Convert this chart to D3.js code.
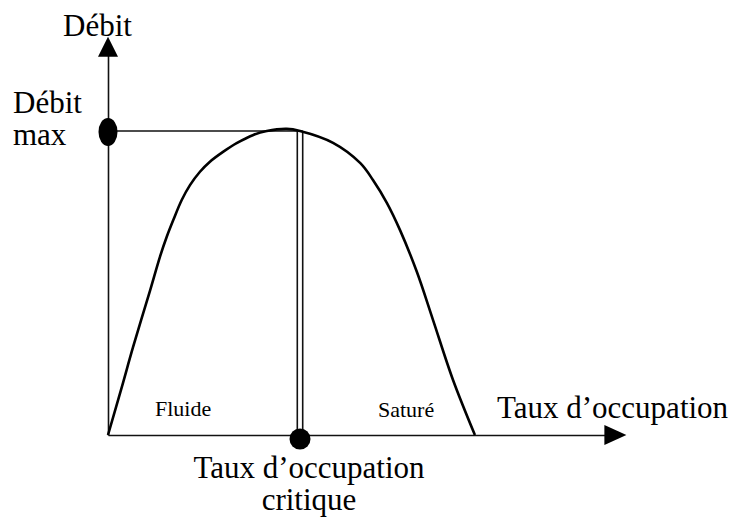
<!DOCTYPE html>
<html>
<head>
<meta charset="utf-8">
<script src="https://cdn.jsdelivr.net/npm/d3@7"></script>
<style>
  html, body { margin: 0; padding: 0; background: #fff; }
  svg { display: block; }
  text { font-family: "Liberation Serif", "Times New Roman", serif; fill: #000; }
</style>
</head>
<body>
<svg id="chart" width="743" height="520"></svg>
<script>
// ---- data (arbitrary units: occupation, débit; critical occupation = 100, débit max = 100)
const occupation = [0, 7.3, 13, 21.9, 27.1, 30.6, 34.0, 38.4, 42.7, 47.9, 53.1, 60.1, 67.0, 75.7, 82.7, 93.1, 100,
                    117.2, 131.3, 138, 145.3, 152.1, 160.9, 169.3, 179.7, 191.1];
const debit      = [0, 16, 28.8, 47.5, 58.7, 65.2, 70.7, 77.3, 82.2, 86.6, 89.9, 93.2, 96.0, 98.7, 100, 100.7, 100,
                    96.1, 89.5, 83.9, 76.3, 67.4, 53.6, 37.8, 18.1, 0];
const criticalOccupation = [100];
const debitMax = [100];
const axisMax = { x: [270], y: [131] };
const labels = {
  yTitle: ["Débit"],
  yMark: ["Débit", "max"],
  xTitle: ["Taux d\u2019occupation"],
  xMark: ["Taux d\u2019occupation", "critique"],
  zones: ["Fluide", "Saturé"]
};

const svg = d3.select("#chart");
const x = d3.scaleLinear().domain([0, 100]).range([108, 300]);
const y = d3.scaleLinear().domain([0, 100]).range([435, 131]);
const xEnd = x(axisMax.x[0]);
const yEnd = y(axisMax.y[0]);

// axes (no ticks)
const xAxisScale = d3.scaleLinear().domain([0, axisMax.x[0]]).range([x(0), xEnd - 14]);
const yAxisScale = d3.scaleLinear().domain([0, axisMax.y[0]]).range([y(0), yEnd + 14]);
svg.append("g").attr("transform", `translate(0,${y(0)})`)
  .call(d3.axisBottom(xAxisScale).tickValues([]).tickSizeOuter(0))
  .call(g => g.select(".domain").attr("stroke", "#111").attr("stroke-width", 1.6));
svg.append("g").attr("transform", `translate(${x(0)},0)`)
  .call(d3.axisLeft(yAxisScale).tickValues([]).tickSizeOuter(0))
  .call(g => g.select(".domain").attr("stroke", "#111").attr("stroke-width", 1.6));

// arrow heads
svg.append("path")
  .attr("d", `M${xEnd},${y(0)} L${xEnd - 22},${y(0) - 10} L${xEnd - 22},${y(0) + 10} Z`)
  .attr("fill", "#000");
svg.append("path")
  .attr("d", `M${x(0)},${yEnd} L${x(0) - 10},${yEnd + 20} L${x(0) + 10},${yEnd + 20} Z`)
  .attr("fill", "#000");

// horizontal line at débit max
svg.append("line")
  .attr("x1", x(0)).attr("x2", x(criticalOccupation[0]) + 2.7)
  .attr("y1", y(debitMax[0])).attr("y2", y(debitMax[0]))
  .attr("stroke", "#111").attr("stroke-width", 1.6);

// double vertical line at critical occupation
[-2.7, 2.7].forEach(off => {
  svg.append("line")
    .attr("x1", x(criticalOccupation[0]) + off).attr("x2", x(criticalOccupation[0]) + off)
    .attr("y1", y(debitMax[0])).attr("y2", y(0))
    .attr("stroke", "#111").attr("stroke-width", 1.6);
});

// curve
const pts = occupation.map((o, i) => [o, debit[i]]);
svg.append("path")
  .datum(pts)
  .attr("fill", "none")
  .attr("stroke", "#000")
  .attr("stroke-width", 2.6)
  .attr("d", d3.line().x(d => x(d[0])).y(d => y(d[1])).curve(d3.curveCatmullRom.alpha(0.5)));

// dots
svg.append("ellipse")
  .attr("cx", x(0)).attr("cy", y(debitMax[0]) + 1)
  .attr("rx", 9.5).attr("ry", 14).attr("fill", "#000");
svg.append("circle")
  .attr("cx", x(criticalOccupation[0])).attr("cy", y(0) + 4)
  .attr("r", 10.5).attr("fill", "#000");

// texts
svg.append("text").attr("x", 63).attr("y", 36).attr("font-size", 31).text(labels.yTitle[0]);
svg.append("text").attr("x", 13).attr("y", 113).attr("font-size", 31).text(labels.yMark[0]);
svg.append("text").attr("x", 13).attr("y", 145).attr("font-size", 31).text(labels.yMark[1]);
svg.append("text").attr("x", 497).attr("y", 418).attr("font-size", 31).text(labels.xTitle[0]);
svg.append("text").attr("x", 309).attr("y", 478).attr("font-size", 31).attr("text-anchor", "middle").text(labels.xMark[0]);
svg.append("text").attr("x", 309).attr("y", 510).attr("font-size", 31).attr("text-anchor", "middle").text(labels.xMark[1]);
svg.append("text").attr("x", 155).attr("y", 416).attr("font-size", 22).text(labels.zones[0]);
svg.append("text").attr("x", 378).attr("y", 417).attr("font-size", 22).text(labels.zones[1]);
</script>
</body>
</html>
